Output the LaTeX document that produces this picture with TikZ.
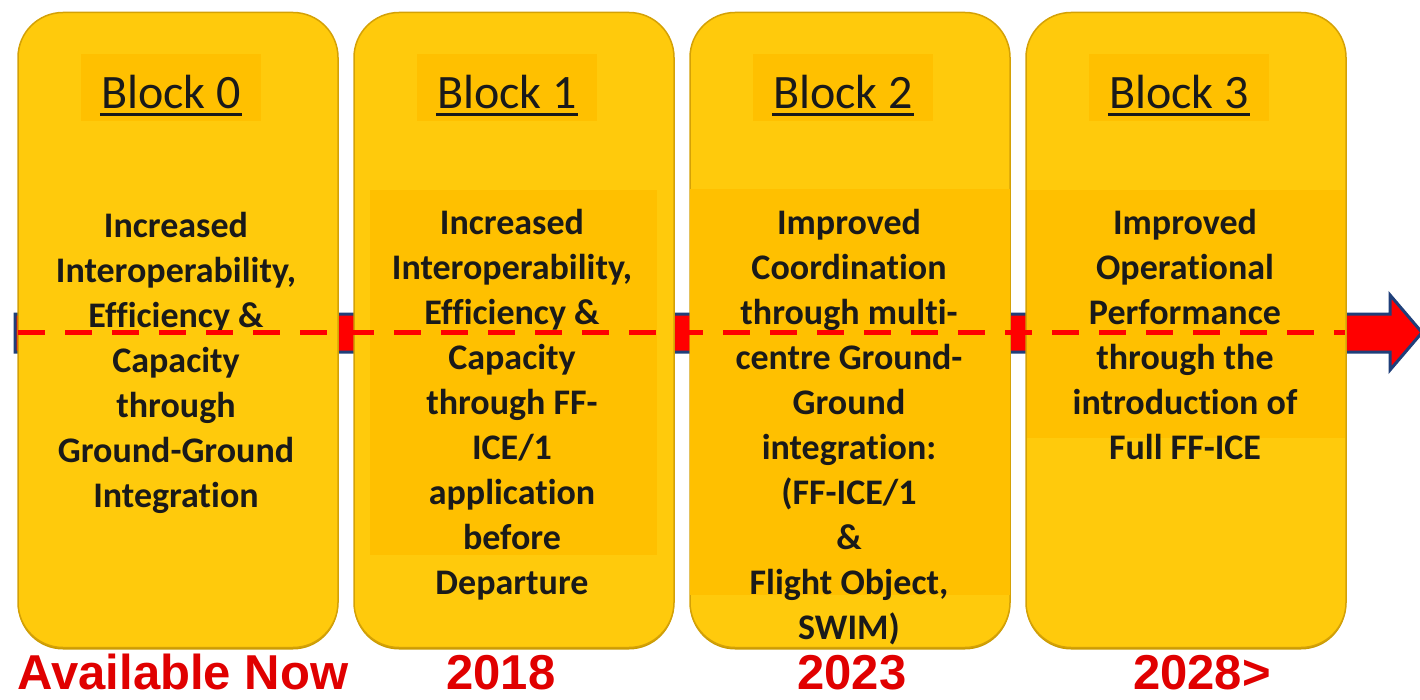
\documentclass[tikz,border=0pt]{standalone}
\usepackage{fontspec}
\setmainfont{Carlito}[Ligatures=NoCommon]
\newfontfamily\labfont{Liberation Sans}
\usetikzlibrary{calc}
\definecolor{boxfill}{HTML}{FFCA0C}
\definecolor{bandfill}{HTML}{FFC000}
\definecolor{boxedge}{HTML}{D4A106}
\definecolor{boxshade}{HTML}{C99A00}
\definecolor{arrowred}{HTML}{FF0000}
\definecolor{arrowblue}{HTML}{1F3F7A}
\definecolor{txt}{HTML}{1A1A1A}
\definecolor{labred}{HTML}{E00000}
\begin{document}
\begin{tikzpicture}[x=1pt,y=-1pt,
 blockbox/.style={draw=boxedge, line width=1.5pt, fill=boxfill, rounded corners=45pt, minimum width=320pt, minimum height=635pt, inner sep=0pt},
 blockshade/.style={fill=boxshade, draw=none, rounded corners=45pt, minimum width=320pt, minimum height=635pt, inner sep=0pt},
 band/.style={fill=bandfill, draw=none, inner sep=0pt},
 titletext/.style={font=\fontsize{48}{58}\selectfont, text=txt, inner sep=0pt, anchor=base},
 body/.style={font=\fontsize{36}{45}\selectfont\bfseries, text=txt, align=center, inner sep=0pt, anchor=north},
 yearlab/.style={font=\fontsize{49}{56}\selectfont\labfont\bfseries, text=labred, inner sep=0pt, anchor=base},
 dashline/.style={draw=arrowred, line width=5pt, dash pattern=on 27pt off 20pt},
 timearrow/.style={fill=arrowred, draw=arrowblue, line width=3pt, line join=miter},
 ulines/.style={draw=txt, line width=3pt}
]
\useasboundingbox (0,0) rectangle (1420,700);

% timeline arrow
\coordinate (as) at (15,333);
\coordinate (ae) at (1422,332.5);
\draw[timearrow] ($(as)+(0,-19)$) -- (1390,314) -- (1390,295) -- (ae) -- (1390,370) -- (1390,352) -- ($(as)+(0,19)$) -- cycle;

% block shadows
\node[blockshade] (s0) at (178,332) {};
\node[blockshade] (s1) at (514,332) {};
\node[blockshade] (s2) at (850,332) {};
\node[blockshade] (s3) at (1186,332) {};

% blocks
\node[blockbox] (b0) at (178,330) {};
\node[blockbox] (b1) at (514,330) {};
\node[blockbox] (b2) at (850,330) {};
\node[blockbox] (b3) at (1186,330) {};

% header bands
\node[band, minimum width=180pt, minimum height=67pt] (h0) at (171,87.5) {};
\node[band, minimum width=180pt, minimum height=67pt] (h1) at (507,87.5) {};
\node[band, minimum width=180pt, minimum height=67pt] (h2) at (843,87.5) {};
\node[band, minimum width=180pt, minimum height=67pt] (h3) at (1179,87.5) {};

% text bands
\node[band, minimum width=287pt, minimum height=365pt] (tb1) at (513.5,372.5) {};
\node[band, minimum width=320pt, minimum height=406pt] (tb2) at (850,392) {};
\node[band, minimum width=318pt, minimum height=248pt] (tb3) at (1186,314) {};

% titles
\node[titletext] (t0) at (171,109) {Block 0};
\node[titletext] (t1) at (507,109) {Block 1};
\node[titletext] (t2) at (843,109) {Block 2};
\node[titletext] (t3) at (1179,109) {Block 3};
\foreach \t in {t0,t1,t2,t3}{
  \draw[ulines] ($(\t.base west)+(-1,6)$) -- ($(\t.base east)+(1,6)$);
}

% body texts
\node[body] (x0) at (176,212) {Increased\\Interoperability,\\Efficiency \&\\Capacity\\through\\Ground-Ground\\Integration};
\node[body] (x1) at (512,209) {Increased\\Interoperability,\\Efficiency \&\\Capacity\\through FF-\\ICE/1\\application\\before\\Departure};
\node[body] (x2) at (849,209) {Improved\\Coordination\\through multi-\\centre Ground-\\Ground\\integration:\\(FF-ICE/1\\\&\\Flight Object,\\SWIM)};
\node[body] (x3) at (1185,209) {Improved\\Operational\\Performance\\through the\\introduction of\\Full FF-ICE};

% dashed line
\coordinate (ds) at (18,332);
\coordinate (de) at (1345,332);
\draw[dashline] (ds) -- (de);

% year labels
\node[yearlab] (y0) at (183,689) {Available Now};
\node[yearlab] (y1) at (501,689) {2018};
\node[yearlab] (y2) at (852,689) {2023};
\node[yearlab] (y3) at (1202,689) {2028>};
\end{tikzpicture}
\end{document}
